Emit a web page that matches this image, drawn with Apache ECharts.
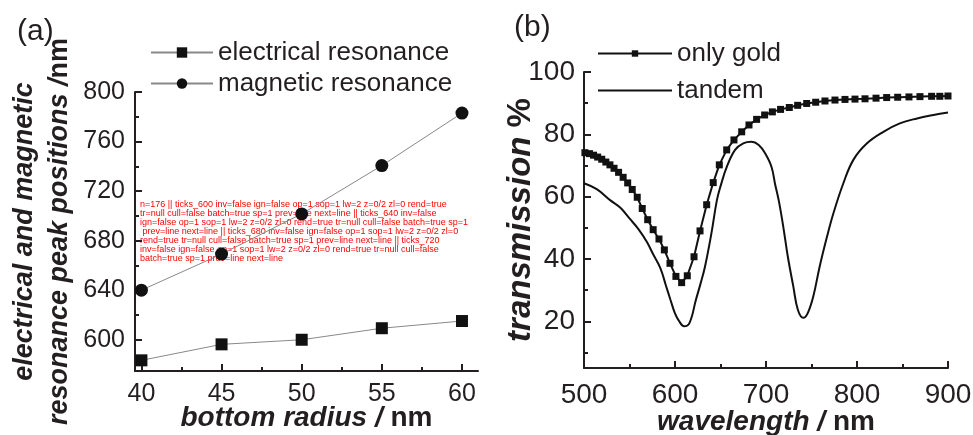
<!DOCTYPE html>
<html>
<head>
<meta charset="utf-8">
<script src="https://cdn.jsdelivr.net/npm/echarts@6/dist/echarts.min.js"></script>
<style>
  html, body { margin: 0; padding: 0; background: #fff; }
  #chart { width: 973px; height: 435px; }
</style>
</head>
<body>
<div id="chart"></div>
<script>
// panel (a): resonance positions vs bottom radius
const radius = [40, 45, 50, 55, 60]
const electrical = [583.6, 596.5, 600.2, 609.5, 615.3]
const magnetic = [640.2, 669.3, 701.7, 740.7, 783]
const radiusTicks = [40, 45, 50, 55, 60]
const radiusMinor = [42.5, 47.5, 52.5, 57.5]
const peakTicks = [600, 640, 680, 720, 760, 800]
const peakMinor = [580, 620, 660, 700, 740, 780]

// panel (b): transmission spectra
const goldWavelength = [501, 506, 510.5, 515, 519.5, 524, 528.5, 533, 538, 543, 548, 553, 558.5, 564, 570, 576, 582.4, 588.3, 594.5, 601, 607.3, 613.5, 620.9, 627.5, 634.8, 642, 648.7, 656.8, 664.8, 673.3, 681.3, 689.7, 698.5, 707, 716, 725.6, 734.8, 744.7, 754.6, 764.8, 775.8, 786.8, 797.8, 808.8, 820.9, 832.6, 844.7, 857.1, 869.2, 882, 891, 900]
const goldTransmission = [74.1, 73.8, 73.3, 72.7, 72, 71.1, 70.2, 69.1, 67.8, 66.2, 64.4, 62.3, 59.8, 56.2, 52.6, 49.4, 46.4, 42.9, 38.6, 34.4, 32.4, 34.6, 40.7, 49, 57.4, 64.5, 70.2, 75, 78.2, 80.8, 83, 84.8, 86.2, 87.2, 88, 88.6, 89.3, 89.9, 90.3, 90.7, 91, 91.2, 91.3, 91.4, 91.6, 91.8, 91.9, 92, 92.1, 92.2, 92.2, 92.3]
const tandemWavelength = [500, 514, 529, 540, 550, 560, 569, 576, 584, 590, 595, 600, 604, 610, 616, 623, 628, 633, 640, 646, 650, 657, 666, 675, 684, 692, 699, 706, 710, 714, 719, 724, 730, 735, 741, 746, 752, 759, 767, 774, 785, 796, 811, 829, 847, 866, 884, 900]
const tandemTransmission = [64.3, 62.4, 58.8, 56.4, 53, 49.5, 45.5, 41.5, 37, 31.5, 26.9, 22.5, 20.3, 18.4, 19.5, 26.9, 32, 37.6, 48.2, 58.8, 63.3, 69.6, 75, 77.1, 77.6, 76.6, 73.9, 69.6, 64, 58.8, 50.3, 40.7, 31.2, 23.7, 21.1, 22.7, 28, 37.6, 47.1, 54.6, 64.3, 71.8, 77.1, 80.8, 83.5, 85.1, 86.2, 87]
const wavelengthTicks = [500, 600, 700, 800, 900]
const wavelengthMinor = [550, 650, 750, 850]
const transTicks = [20, 40, 60, 80, 100]
const transMinor = [10, 30, 50, 70, 90]

const ink = '#231f20'
const font = 'Liberation Sans'
const pairs = (xs, ys) => xs.map((x, i) => [x, ys[i]])

const tick = (len, values) => ({
  show: true, inside: true, length: len, customValues: values,
  lineStyle: { color: ink, width: 2 }
})

const mainAxis = (opt) => Object.assign({
  type: 'value',
  axisLine: { show: true, onZero: false, lineStyle: { color: ink, width: 2 } },
  splitLine: { show: false },
  nameMoveOverlap: false
}, opt)

const minorAxis = (opt, values) => Object.assign({
  type: 'value',
  axisLine: { show: false, onZero: false },
  splitLine: { show: false },
  axisLabel: { show: false },
  axisTick: tick(4, values)
}, opt)

const label = (size, margin, values) => ({
  color: ink, fontSize: size, margin, fontFamily: font, customValues: values
})

const rich = (size) => ({
  i: { fontStyle: 'italic', fontWeight: 'bold', color: ink, fontSize: size, lineHeight: 35, fontFamily: font },
  b: { fontWeight: 'bold', color: ink, fontSize: size, lineHeight: 35, fontFamily: font }
})

const option = {
  animation: false,
  title: [
    { text: '(a)', left: 12, top: 12, textStyle: { fontSize: 30, fontWeight: 'normal', color: ink, fontFamily: font } },
    { text: '(b)', left: 509, top: 8, textStyle: { fontSize: 30, fontWeight: 'normal', color: ink, fontFamily: font } }
  ],
  legend: [
    {
      orient: 'vertical', left: 150, top: 37, padding: 0, itemWidth: 62, itemHeight: 13, itemGap: 0,
      data: ['electrical resonance', 'magnetic resonance'],
      textStyle: { fontSize: 26, color: ink, lineHeight: 31, fontFamily: font }
    },
    {
      orient: 'vertical', left: 597, top: 35, padding: 0, itemWidth: 74, itemHeight: 8, itemGap: 0,
      data: ['only gold', { name: 'tandem', itemStyle: { opacity: 0 } }],
      textStyle: { fontSize: 26, color: ink, lineHeight: 37, fontFamily: font }
    }
  ],
  grid: [
    { left: 135, right: 495, top: 92, bottom: 64, outerBoundsMode: 'none' },
    { left: 584, right: 25, top: 72, bottom: 67, outerBoundsMode: 'none' }
  ],
  xAxis: [
    mainAxis({
      gridIndex: 0, min: 39.6, max: 61,
      axisLabel: label(25, 11, radiusTicks),
      axisTick: tick(7, radiusTicks),
      name: '{i|bottom radius /}{b| nm}', nameLocation: 'middle', nameGap: 30,
      nameTextStyle: { rich: rich(28) }
    }),
    minorAxis({ gridIndex: 0, min: 39.6, max: 61, position: 'bottom' }, radiusMinor),
    mainAxis({
      gridIndex: 1, min: 500, max: 900,
      axisLabel: label(28, 13, wavelengthTicks),
      axisTick: tick(7, wavelengthTicks),
      name: '{i|wavelength /}{b| nm}', nameLocation: 'middle', nameGap: 37,
      nameTextStyle: { rich: rich(28) }
    }),
    minorAxis({ gridIndex: 1, min: 500, max: 900, position: 'bottom' }, wavelengthMinor)
  ],
  yAxis: [
    mainAxis({
      gridIndex: 0, min: 575, max: 800,
      axisLabel: label(25, 10, peakTicks),
      axisTick: tick(7, peakTicks),
      name: '{i|electrical and magnetic}\n{i|resonance peak positions /}{b|nm}',
      nameLocation: 'middle', nameRotate: 90, nameGap: 58,
      nameTextStyle: { lineHeight: 35, rich: rich(27) }
    }),
    minorAxis({ gridIndex: 0, min: 575, max: 800, position: 'left' }, peakMinor),
    mainAxis({
      gridIndex: 1, min: 5, max: 100,
      axisLabel: label(28, 9, transTicks),
      axisTick: tick(7, transTicks),
      name: '{i|transmission }{b|%}', nameLocation: 'middle', nameRotate: 90, nameGap: 46,
      nameTextStyle: { rich: rich(33) }
    }),
    minorAxis({ gridIndex: 1, min: 5, max: 100, position: 'left' }, transMinor)
  ],
  series: [
    {
      name: 'electrical resonance', type: 'line', xAxisIndex: 0, yAxisIndex: 0,
      data: pairs(radius, electrical),
      symbol: 'rect', symbolSize: 12,
      itemStyle: { color: '#111' },
      lineStyle: { color: '#888', width: 1 }
    },
    {
      name: 'magnetic resonance', type: 'line', xAxisIndex: 0, yAxisIndex: 0,
      data: pairs(radius, magnetic),
      symbol: 'circle', symbolSize: 13,
      itemStyle: { color: '#111' },
      lineStyle: { color: '#888', width: 1 }
    },
    {
      name: 'only gold', type: 'line', xAxisIndex: 2, yAxisIndex: 2,
      data: pairs(goldWavelength, goldTransmission),
      symbol: 'rect', symbolSize: 7, showAllSymbol: true,
      itemStyle: { color: '#111' },
      lineStyle: { color: '#111', width: 2 }
    },
    {
      name: 'tandem', type: 'line', xAxisIndex: 2, yAxisIndex: 2,
      data: pairs(tandemWavelength, tandemTransmission),
      symbol: 'none', smooth: 0.4,
      itemStyle: { color: '#111' },
      lineStyle: { color: '#111', width: 2 }
    }
  ]
}

const myChart = echarts.init(document.getElementById('chart'))
myChart.setOption(option)

// temporary check of the tick elements
let info = []
try {
  const list = myChart.getZr().storage.getDisplayList(true, true)
  info.push('n=' + list.length)
  let k = 0
  list.forEach((el, idx) => {
    if (el.anid && String(el.anid).indexOf('tick') >= 0 && k < 4) {
      k++
      const st = el.style || {}
      const prev = list[idx - 1]
      const next = list[idx + 1]
      info.push(el.anid + ' inv=' + el.invisible + ' ign=' + el.ignore + ' op=' + st.opacity + ' sop=' + st.strokeOpacity + ' lw=' + st.lineWidth + ' z=' + el.z + '/' + el.z2 + ' zl=' + el.zlevel + ' rend=' + el.__isRendered + ' tr=' + (el.transform ? Array.from(el.transform).map(v => v.toFixed(1)).join(',') : 'null') + ' cull=' + el.culling + ' batch=' + el.autoBatch + ' sp=' + st.strokePercent + ' prev=' + (prev && prev.type) + ' next=' + (next && next.type))
    }
  })
} catch (e) { info.push('err ' + e.message) }
myChart.setOption({ graphic: [{ type: 'text', left: 140, top: 200, style: { text: info.join(' || '), width: 330, overflow: 'break', fontSize: 9, fill: 'red' } }] })
</script>
</body>
</html>
